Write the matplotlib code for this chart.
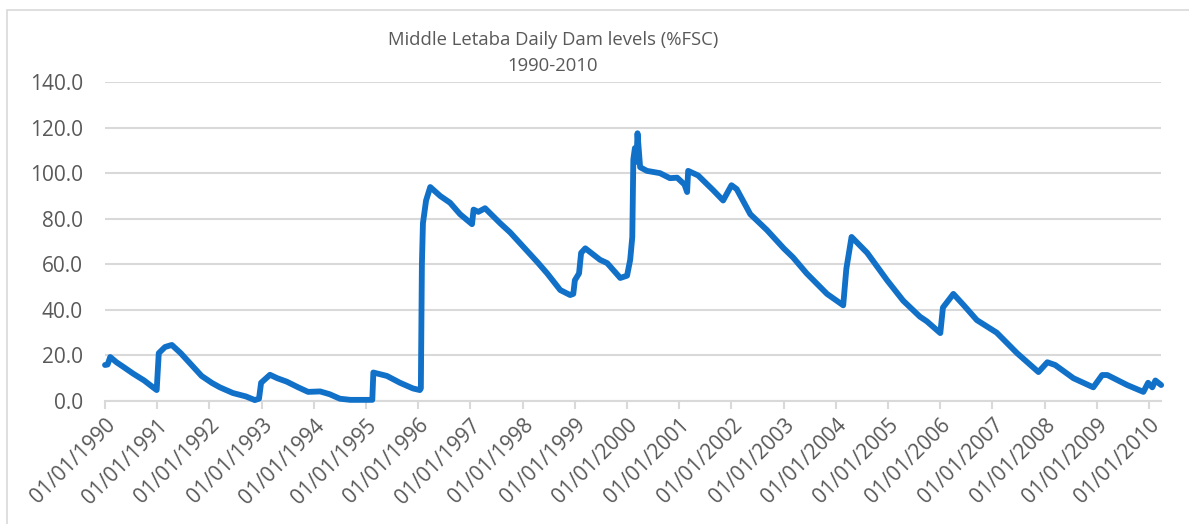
import numpy as np
import pandas as pd
import matplotlib
matplotlib.use("Agg")
import matplotlib.pyplot as plt
import matplotlib.dates as mdates
from matplotlib.patches import Rectangle

# dam level readings (decimal year, %FSC)
years = [1990.00, 1990.05, 1990.10, 1990.22, 1990.35, 1990.54, 1990.75, 1990.92, 1990.99,
         1991.03, 1991.15, 1991.28, 1991.45, 1991.69, 1991.85, 1992.05, 1992.20, 1992.45,
         1992.70, 1992.87, 1992.95, 1992.99, 1993.16, 1993.30, 1993.48, 1993.70, 1993.89,
         1994.12, 1994.30, 1994.50, 1994.70, 1995.12, 1995.14, 1995.40, 1995.65, 1995.90,
         1996.03, 1996.05, 1996.07, 1996.09, 1996.15, 1996.23, 1996.42, 1996.61, 1996.80,
         1997.03, 1997.06, 1997.15, 1997.28, 1997.57, 1997.76, 1998.08, 1998.28, 1998.47,
         1998.72, 1998.91, 1998.97, 1999.00, 1999.08, 1999.12, 1999.20, 1999.48, 1999.62,
         1999.87, 2000.00, 2000.06, 2000.10, 2000.12, 2000.15, 2000.18, 2000.20, 2000.25,
         2000.38, 2000.63, 2000.82, 2000.96, 2001.10, 2001.15, 2001.17, 2001.36, 2001.65,
         2001.84, 2002.00, 2002.10, 2002.36, 2002.68, 2003.00, 2003.18, 2003.44, 2003.83,
         2004.14, 2004.20, 2004.30, 2004.60, 2004.98, 2005.29, 2005.61, 2005.74, 2006.00,
         2006.05, 2006.25, 2006.45, 2006.70, 2007.08, 2007.47, 2007.88, 2008.05, 2008.20,
         2008.55, 2008.93, 2009.10, 2009.20, 2009.58, 2009.89, 2009.98, 2010.06, 2010.12,
         2010.23]
levels = [15.8, 16.0, 19.3, 17.0, 15.0, 12.0, 9.0, 6.0, 4.8,
          21.0, 23.7, 24.6, 21.0, 15.0, 11.0, 7.9, 6.0, 3.5,
          2.0, 0.4, 1.0, 8.0, 11.5, 10.0, 8.5, 6.0, 4.0,
          4.2, 3.0, 1.0, 0.5, 0.5, 12.5, 11.0, 8.0, 5.5,
          4.8, 5.5, 60.0, 78.0, 88.0, 93.9, 90.0, 87.0, 82.0,
          77.6, 84.0, 83.0, 84.6, 78.0, 74.0, 66.0, 61.0, 56.0,
          48.7, 46.5, 47.0, 53.0, 56.0, 65.0, 67.0, 62.0, 60.5,
          54.0, 55.0, 62.0, 72.0, 106.0, 111.0, 105.0, 117.5, 102.6,
          101.0, 100.0, 97.8, 98.0, 95.0, 91.7, 101.0, 99.0, 92.5,
          88.0, 94.7, 93.0, 82.0, 75.0, 67.0, 63.0, 56.0, 47.0,
          42.0, 58.0, 72.0, 65.0, 53.0, 44.0, 37.0, 35.0, 29.8,
          41.0, 47.0, 42.0, 35.5, 30.0, 21.0, 12.7, 17.0, 15.8,
          10.0, 6.0, 11.4, 11.4, 7.0, 4.0, 8.0, 6.0, 9.0,
          7.0]

tick_years = list(range(1990, 2011))
y_ticks = [0, 20, 40, 60, 80, 100, 120, 140]

title_line1 = "Middle Letaba Daily Dam levels (%FSC)"
title_line2 = "1990-2010"

grey_txt = "#595959"
grey_grid = "#d9d9d9"
blue = "#1170c8"

plt.rcParams['font.family'] = ['Open Sans', 'DejaVu Sans']

# decimal years -> dates
start = pd.Timestamp("1990-01-01")
dates = [start + pd.Timedelta(days=(y - 1990) * 365.25) for y in years]
tick_dates = [pd.Timestamp(f"{y}-01-01") for y in tick_years]

fig = plt.figure(figsize=(11.89, 5.24), dpi=100)
ax = fig.add_axes([105 / 1189, 1 - 401 / 524, 1056 / 1189, 319 / 524])

ax.plot(dates, levels, color=blue, lw=4.2, solid_joinstyle='round', solid_capstyle='round',
        zorder=3, clip_on=False)

ax.set_ylim(0, 140)
ax.set_yticks(y_ticks)
ax.set_yticklabels([f"{v:.1f}" for v in y_ticks])
ax.set_xlim(start, pd.Timestamp("2010-03-25"))
ax.set_xticks(tick_dates)
ax.set_xticklabels([d.strftime("%d/%m/%Y") for d in tick_dates])

ax.grid(axis='y', color=grey_grid, lw=1.5)
ax.set_axisbelow(True)
for s in ['top', 'right', 'left']:
    ax.spines[s].set_visible(False)
ax.spines['bottom'].set_color(grey_grid)
ax.spines['bottom'].set_linewidth(1.5)

ax.tick_params(axis='y', length=0, pad=16, labelsize=15, labelcolor=grey_txt)
ax.tick_params(axis='x', length=6, width=1.5, color=grey_grid, pad=4,
               labelsize=15, labelcolor=grey_txt)
for lab in ax.get_xticklabels():
    lab.set_rotation(45)
    lab.set_ha('right')
    lab.set_va('top')
    lab.set_rotation_mode('anchor')

fig.text(553 / 1189, 1 - 40 / 524, title_line1, ha='center', va='center',
         fontsize=13.3, color=grey_txt)
fig.text(553 / 1189, 1 - 66 / 524, title_line2, ha='center', va='center',
         fontsize=13.3, color=grey_txt)

# chart border
fig.patches.append(Rectangle((7 / 1189, -0.1), 1.2, 1.1 - 9.5 / 524,
                             transform=fig.transFigure, fill=False,
                             edgecolor=grey_grid, lw=1.2))

fig.savefig("out.png", dpi=100)
